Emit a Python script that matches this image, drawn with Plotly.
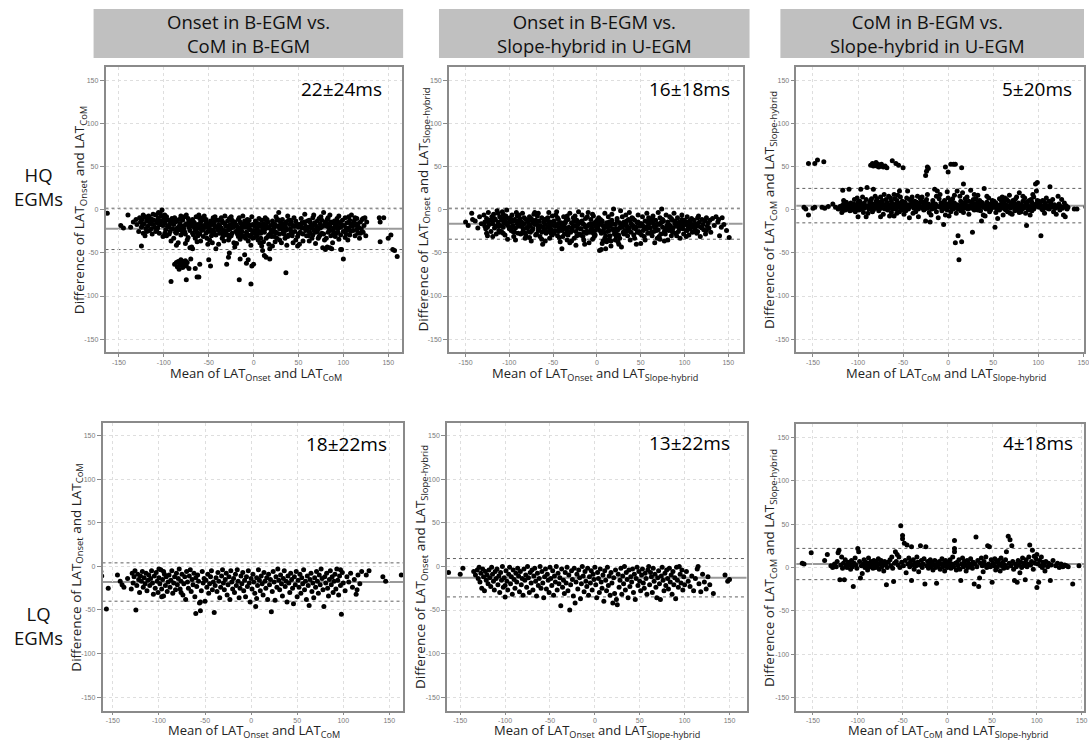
import plotly.graph_objects as go

# ---------------- data (mean, difference) per panel ----------------
HQ_ONSET_COM = [
(-163,-4),(-148,-18),(-145,-21),(-140,-6),(-137,-20),(-134,-14),(-131,-11),(-130,-17),(-125,-42),(-128,-25),
(-127,-9),(-126,-14),(-125,-20),(-124,-11),(-123,-27),(-122,-16),(-121,-8),(-120,-22),(-123,-6),(-121,-30),
(-119,-13),(-118,-19),(-117,-7),(-116,-24),(-115,-10),(-114,-16),(-113,-28),(-112,-5),(-111,-12),(-110,-20),(-118,-9),(-116,-14),(-114,-22),(-112,-17),
(-109,-6),(-108,-15),(-107,-21),(-106,-9),(-105,-27),(-104,-4),(-103,-13),(-102,0),(-101,-18),(-100,-10),(-109,-25),(-107,-12),(-105,-17),(-103,-7),(-101,-31),(-106,-3),
(-99,-15),(-98,-23),(-97,-8),(-96,-19),(-95,-12),(-94,-28),(-93,-16),(-92,-36),(-91,-10),(-90,-22),(-99,-6),(-97,-30),(-95,-18),(-93,-25),(-91,-14),(-98,-11),
(-89,-17),(-88,-9),(-87,-26),(-86,-13),(-85,-21),(-84,-38),(-83,-11),(-82,-16),(-81,-29),(-80,-19),(-89,-33),(-87,-14),(-85,-24),(-83,-19),(-81,-7),(-86,-41),(-82,-23),
(-79,-12),(-78,-22),(-77,-8),(-76,-28),(-75,-16),(-74,-35),(-73,-10),(-72,-20),(-71,-44),(-70,-15),(-79,-26),(-77,-18),(-75,-6),(-73,-32),(-71,-24),(-76,-39),(-72,-13),
(-69,-19),(-68,-11),(-67,-29),(-66,-15),(-65,-23),(-64,-8),(-63,-37),(-62,-17),(-61,-21),(-60,-10),(-69,-43),(-67,-14),(-65,-33),(-63,-26),(-61,-6),(-66,-20),(-62,-30),
(-59,-14),(-58,-24),(-57,-9),(-56,-31),(-55,-18),(-54,-12),(-53,-27),(-52,-20),(-51,-40),(-50,-16),(-59,-36),(-57,-21),(-55,-7),(-53,-15),(-51,-25),(-56,-11),(-52,-33),(-58,-18),
(-49,-22),(-48,-13),(-47,-30),(-46,-17),(-45,-9),(-44,-26),(-43,-19),(-42,-45),(-41,-12),(-40,-23),(-49,-35),(-47,-16),(-45,-28),(-43,-8),(-41,-20),(-46,-38),(-44,-14),(-48,-25),
(-39,-17),(-38,-27),(-37,-11),(-36,-21),(-35,-33),(-34,-15),(-33,-24),(-32,-7),(-31,-19),(-30,-29),(-39,-40),(-37,-22),(-35,-13),(-33,-36),(-31,-26),(-36,-9),(-34,-30),(-38,-18),
(-29,-13),(-28,-23),(-27,-32),(-26,-17),(-25,-8),(-24,-27),(-23,-20),(-22,-38),(-21,-14),(-20,-25),(-29,-19),(-27,-10),(-25,-30),(-23,-16),(-21,-43),(-26,-22),(-24,-12),(-28,-35),
(-19,-18),(-18,-28),(-17,-11),(-16,-22),(-15,-34),(-14,-16),(-13,-25),(-12,-7),(-11,-20),(-10,-30),(-19,-39),(-17,-24),(-15,-14),(-13,-31),(-11,-17),(-16,-9),(-14,-27),(-18,-20),
(-9,-15),(-8,-26),(-7,-19),(-6,-36),(-5,-12),(-4,-23),(-3,-29),(-2,-8),(-1,-17),(0,-24),(-9,-33),(-7,-11),(-5,-21),(-3,-41),(-1,-27),(-6,-16),(-4,-31),(-8,-20),
(1,-19),(2,-13),(3,-28),(4,-22),(5,-35),(6,-10),(7,-25),(8,-17),(9,-42),(10,-21),(1,-32),(3,-15),(5,-26),(7,-38),(9,-12),(4,-30),(6,-19),(8,-27),
(11,-16),(12,-26),(13,-9),(14,-33),(15,-20),(16,-14),(17,-29),(18,-45),(19,-18),(20,-24),(11,-37),(13,-22),(15,-11),(17,-40),(19,-27),(14,-17),(16,-31),(12,-21),
(21,-13),(22,-23),(23,-31),(24,-17),(25,-8),(26,-27),(27,-19),(28,-3),(29,-35),(30,-15),(21,-42),(23,-20),(25,-26),(27,-11),(29,-22),(24,-37),(22,-16),(26,-33),
(31,-18),(32,-11),(33,-26),(34,-20),(35,-33),(36,-14),(37,-23),(38,-7),(39,-29),(40,-17),(31,-38),(33,-16),(35,-24),(37,-41),(39,-12),(34,-28),(36,-21),
(41,-22),(42,-14),(43,-30),(44,-18),(45,-9),(46,-25),(47,-35),(48,-16),(49,-42),(50,-20),(41,-12),(43,-27),(45,-19),(47,-13),(49,-31),(44,-38),
(51,-17),(52,-26),(53,-10),(54,-21),(55,-36),(56,-15),(57,-5),(58,-24),(59,-30),(60,-13),(51,-40),(53,-19),(55,-28),(57,-14),(59,-22),
(61,-20),(62,-12),(63,-27),(64,-17),(65,-33),(66,-9),(67,-23),(68,-15),(69,-39),(70,-19),(61,-30),(63,-14),(65,-21),(67,-6),(69,-26),(62,-36),(66,-18),(68,-25),
(71,-13),(72,-22),(73,-31),(74,-16),(75,-8),(76,-27),(77,-19),(78,-3),(79,-35),(80,-14),(71,-25),(73,-10),(75,-20),(77,-44),(79,-17),(74,-29),(76,-12),(72,-33),(80,-46),
(81,-18),(82,-11),(83,-26),(84,-21),(85,-6),(86,-30),(87,-15),(88,-38),(89,-23),(90,-13),(81,-33),(83,-9),(85,-19),(87,-45),(89,-28),(84,-16),(86,-24),(82,-43),
(91,-17),(92,-27),(93,-10),(94,-22),(95,-34),(96,-15),(97,-20),(98,-46),(99,-12),(100,-25),(91,-31),(93,-19),(95,-7),(97,-29),(94,-14),
(101,-18),(102,-9),(103,-28),(104,-15),(105,-35),(106,-21),(107,-12),(108,-25),(109,-6),(110,-19),(102,-32),(104,-23),(106,-8),(108,-16),
(111,-24),(112,-13),(113,-30),(114,-18),(115,-10),(116,-27),(117,-20),(118,-33),(119,-14),(120,-22),(113,-9),(116,-16),
(121,-11),(122,-26),(123,-18),(124,-9),(125,-30),(126,-14),(122,-10),
(140,-9),(141,-14),(145,-9),(141,-37),(150,-33),(153,-29),(155,-46),(157,-47),(160,-54),
(-92,-83),(-88,-63),(-86,-61),(-85,-66),(-84,-60),(-83,-69),(-82,-64),(-81,-58),(-80,-62),(-79,-67),(-78,-60),(-77,-63),(-76,-59),(-75,-65),(-74,-61),
(-75,-81),(-72,-68),(-70,-57),(-68,-45),(-65,-68),(-63,-78),(-61,-78),(-60,-63),(-50,-58),(-48,-65),(-30,-63),(-28,-55),(-27,-50),(-16,-81),(-15,-57),
(-10,-52),(-8,-62),(-6,-58),(-3,-86),(-2,-65),(0,-63),(10,-47),(12,-53),(14,-55),(18,-57),(36,-73),(100,-57),(85,-44),(97,-46),
]
HQ_ONSET_COM_CORE = [
(-124,-18),(-119,-25),(-113,-11),(-108,-23),(-104,-17),(-99,-27),(-94,-20),(-90,-14),(-86,-27),(-80,-11),(-77,-25),(-73,-17),
(-68,-27),(-64,-19),(-60,-28),(-56,-23),(-53,-11),(-49,-18),(-45,-23),(-42,-29),(-38,-12),(-35,-27),(-32,-16),(-28,-29),
(-24,-20),(-20,-17),(-17,-31),(-14,-21),(-10,-13),(-7,-29),(-4,-18),(-1,-33),(2,-25),(5,-16),(8,-33),(11,-24),(14,-12),
(17,-21),(20,-31),(23,-26),(26,-12),(29,-28),(32,-22),(35,-17),(38,-31),(42,-25),(46,-19),(50,-28),(54,-15),(58,-19),
(62,-25),(66,-29),(70,-24),(74,-21),(78,-28),(82,-19),(86,-14),(90,-20),(94,-26),(98,-17),(103,-21),(107,-29),(111,-17),
(115,-23),(119,-27),
]

HQ_ONSET_SLOPE = [
(-150,-14),(-147,-18),(-143,-4),(-142,-11),(-139,-13),(-136,-21),(-134,-8),(-132,-16),
(-129,-6),(-128,-14),(-127,-22),(-126,-10),(-125,-30),(-124,-3),(-123,-17),(-122,-12),(-121,-25),(-120,-8),(-128,-19),(-126,-27),(-124,-13),
(-119,-16),(-118,-5),(-117,-21),(-116,-11),(-115,-28),(-114,-1),(-113,-14),(-112,-24),(-111,-8),(-110,-18),(-119,-31),(-117,-10),(-115,-19),(-113,-4),(-111,-26),
(-109,-12),(-108,-2),(-107,-20),(-106,-15),(-105,-29),(-104,-7),(-103,-17),(-102,-34),(-101,-10),(-100,-22),(-109,-25),(-107,-5),(-105,-13),(-103,0),(-101,-19),(-106,-9),
(-99,-14),(-98,-24),(-97,-6),(-96,-18),(-95,-31),(-94,-11),(-93,-21),(-92,-3),(-91,-16),(-90,-27),(-99,-9),(-97,-20),(-95,-13),(-93,-35),(-91,-7),(-96,-25),
(-89,-19),(-88,-10),(-87,-28),(-86,-14),(-85,-4),(-84,-23),(-83,-16),(-82,-33),(-81,-11),(-80,-21),(-89,-6),(-87,-15),(-85,-26),(-83,-9),(-81,-30),(-86,-18),
(-79,-13),(-78,-25),(-77,-8),(-76,-19),(-75,-36),(-74,-12),(-73,-22),(-72,-5),(-71,-17),(-70,-29),(-79,-20),(-77,-32),(-75,-10),(-73,-15),(-71,-3),(-76,-26),
(-69,-16),(-68,-7),(-67,-24),(-66,-13),(-65,-31),(-64,-19),(-63,-9),(-62,-40),(-61,-21),(-60,-11),(-69,-28),(-67,-4),(-65,-18),(-63,-34),(-61,-14),(-66,-22),
(-59,-17),(-58,-27),(-57,-10),(-56,-20),(-55,-3),(-54,-33),(-53,-14),(-52,-23),(-51,-7),(-50,-18),(-59,-36),(-57,-12),(-55,-25),(-53,-16),(-51,-29),(-56,-9),(-54,-21),
(-49,-13),(-48,-24),(-47,-6),(-46,-19),(-45,-30),(-44,-11),(-43,-22),(-42,-37),(-41,-15),(-40,-45),(-49,-27),(-47,-17),(-45,-9),(-43,-32),(-41,-20),(-46,-2),(-44,-25),
(-39,-18),(-38,-8),(-37,-28),(-36,-14),(-35,-23),(-34,-35),(-33,-11),(-32,-20),(-31,-4),(-30,-26),(-39,-31),(-37,-16),(-35,-12),(-33,-25),(-31,-38),(-36,-21),(-34,-7),
(-29,-15),(-28,-24),(-27,-9),(-26,-33),(-25,-18),(-24,-41),(-23,-12),(-22,-21),(-21,-2),(-20,-28),(-29,-36),(-27,-19),(-25,-7),(-23,-30),(-21,-16),(-26,-13),(-24,-25),
(-19,-14),(-18,-22),(-17,-6),(-16,-31),(-15,-17),(-14,-40),(-13,-10),(-12,-25),(-11,-19),(-10,-3),(-19,-29),(-17,-13),(-15,-35),(-13,-20),(-11,-8),(-16,-16),(-12,-27),
(-9,-17),(-8,-26),(-7,-11),(-6,-21),(-5,-34),(-4,-7),(-3,-15),(-2,-29),(-1,-19),(0,-12),(-9,-38),(-7,-23),(-5,-5),(-3,-31),(-1,-14),(-6,-18),(-2,-24),
(1,-20),(2,-9),(3,-47),(4,-16),(5,-27),(6,-13),(7,-36),(8,-21),(9,-4),(10,-30),(1,-14),(3,-24),(5,-46),(7,-18),(9,-33),(4,-11),(6,-39),(8,-26),
(11,-15),(12,-25),(13,-8),(14,-34),(15,-19),(16,-42),(17,-12),(18,-22),(19,1),(20,-28),(11,-37),(13,-18),(15,-30),(17,-5),(19,-24),(14,-14),(16,-36),(12,-20),(10,-45),
(21,-17),(22,-31),(23,-10),(24,-23),(25,-40),(26,-15),(27,-1),(28,-43),(29,-20),(30,-26),(21,-35),(23,-13),(25,-29),(27,-19),(29,-8),(24,-37),(22,-22),(26,-33),
(31,-14),(32,-24),(33,-6),(34,-19),(35,-30),(36,-11),(37,-21),(38,-35),(39,-16),(40,-9),(31,-28),(33,-17),(35,-23),(37,-3),(39,-26),(34,-13),
(41,-18),(42,-29),(43,-12),(44,-22),(45,-40),(46,-15),(47,-6),(48,-25),(49,-19),(50,-39),(41,-10),(43,-33),(45,-20),(47,-14),(49,-27),
(51,-16),(52,-8),(53,-24),(54,-31),(55,-13),(56,-20),(57,-4),(58,-27),(59,-17),(60,-11),(51,-29),(53,-19),(55,-35),(57,-22),(59,-9),
(61,-21),(62,-14),(63,-30),(64,-7),(65,-18),(66,-38),(67,-12),(68,-24),(69,-16),(70,-3),(61,-27),(63,-10),(65,-25),(67,-19),(69,-33),(64,-15),
(71,-17),(72,-9),(73,-28),(74,1),(75,-20),(76,-13),(77,-36),(78,-23),(79,-6),(80,-18),(71,-31),(73,-15),(75,-11),(77,-25),(79,-21),(72,-34),
(81,-14),(82,-24),(83,-8),(84,-19),(85,-30),(86,-12),(87,-21),(88,-4),(89,-16),(90,-27),(81,-35),(83,-18),(85,-10),(87,-26),(89,-13),(84,-22),
(91,-19),(92,-9),(93,-25),(94,-14),(95,-33),(96,-17),(97,-6),(98,-22),(99,-28),(100,-12),(91,-30),(93,-16),(95,-20),(97,-11),(99,-18),
(101,-15),(102,-24),(103,-8),(104,-19),(105,-29),(106,-13),(107,-21),(108,-10),(109,-26),(110,-17),(102,-31),(104,-14),(106,-22),(108,-18),
(111,-12),(112,-22),(113,-16),(114,-27),(115,-9),(116,-19),(117,-14),(118,-31),(119,-20),(120,-11),(112,-25),(116,-7),
(121,-17),(122,-23),(123,-13),(124,-28),(125,-9),(126,-19),(127,-15),(128,-21),(129,-12),(130,-26),
(132,-10),(134,-18),(136,-8),(138,-14),(140,-30),(139,-11),(142,-20),(145,-17),(148,-24),(151,-32),(143,-9),
]
HQ_ONSET_SLOPE_CORE = [
(-125,-20),(-118,-12),(-112,-19),(-107,-27),(-102,-15),(-98,-11),(-94,-26),(-90,-13),(-85,-20),(-82,-27),(-78,-16),(-74,-24),
(-70,-12),(-67,-20),(-63,-26),(-59,-23),(-55,-15),(-52,-28),(-48,-18),(-44,-16),(-40,-24),(-37,-20),(-33,-29),(-29,-22),
(-26,-19),(-22,-14),(-19,-22),(-15,-26),(-11,-25),(-7,-16),(-4,-27),(0,-21),(3,-17),(6,-25),(10,-19),(14,-24),(18,-16),
(22,-27),(26,-21),(30,-17),(34,-25),(38,-12),(42,-21),(46,-26),(50,-16),(54,-22),(58,-14),(62,-26),(66,-20),(70,-23),
(74,-14),(78,-28),(82,-17),(86,-25),(90,-15),(94,-22),(98,-15),(103,-24),(107,-16),(111,-20),(115,-25),(120,-21),(125,-24),
]

HQ_COM_SLOPE = [
(-160,3),(-158,1),(-155,-6),(-150,2),(-148,3),(-140,3),(-137,2),(-133,4),(-128,7),(-125,3),(-122,1),
(-119,2),(-118,5),(-117,-1),(-116,7),(-115,3),(-114,0),(-113,9),(-112,4),(-111,1),(-110,6),(-118,-3),(-116,11),(-114,4),
(-109,3),(-108,8),(-107,0),(-106,5),(-105,2),(-104,12),(-103,-2),(-102,6),(-101,3),(-100,9),(-109,-1),(-107,4),(-105,7),(-103,1),(-101,14),
(-99,4),(-98,10),(-97,24),(-96,1),(-95,6),(-94,-3),(-93,8),(-92,3),(-91,12),(-90,26),(-99,0),(-97,5),(-95,15),(-93,2),(-91,-8),(-96,7),(-100,-8),
(-89,5),(-88,1),(-87,9),(-86,3),(-85,13),(-84,-2),(-83,24),(-82,6),(-81,2),(-80,10),(-89,-4),(-87,4),(-85,7),(-83,0),(-81,16),(-86,11),
(-79,3),(-78,8),(-77,-1),(-76,5),(-75,15),(-74,2),(-73,11),(-72,-5),(-71,6),(-70,1),(-79,13),(-77,4),(-75,-8),(-73,7),(-71,18),(-76,9),
(-69,4),(-68,9),(-67,0),(-66,6),(-65,2),(-64,14),(-63,-3),(-62,7),(-61,3),(-60,18),(-69,12),(-67,5),(-65,-7),(-63,10),(-61,1),(-66,16),(-60,-7),
(-59,5),(-58,1),(-57,11),(-56,3),(-55,8),(-54,-2),(-53,15),(-52,4),(-51,0),(-50,7),(-59,13),(-57,-4),(-55,6),(-53,2),(-51,10),(-56,17),(-54,22),
(-49,3),(-48,9),(-47,-1),(-46,5),(-45,22),(-44,1),(-43,12),(-42,4),(-41,7),(-40,15),(-49,-5),(-47,6),(-45,2),(-43,-9),(-41,11),(-46,14),
(-39,6),(-38,2),(-37,10),(-36,-2),(-35,4),(-34,16),(-33,1),(-32,8),(-31,3),(-30,12),(-39,-4),(-37,5),(-35,9),(-33,-8),(-31,14),(-36,7),
(-29,4),(-28,9),(-27,0),(-26,6),(-25,-13),(-24,12),(-23,2),(-22,7),(-21,-3),(-20,-14),(-29,15),(-27,5),(-25,10),(-23,18),(-21,3),(-26,1),
(-19,5),(-18,1),(-17,11),(-16,3),(-15,24),(-14,7),(-13,-2),(-12,22),(-11,4),(-10,13),(-19,-6),(-17,8),(-15,2),(-13,16),(-11,-9),(-16,6),
(-9,3),(-8,8),(-7,-1),(-6,5),(-5,-17),(-4,11),(-3,2),(-2,7),(-1,0),(0,14),(-9,18),(-7,4),(-5,9),(-3,-6),(-1,21),(-6,1),
(1,4),(2,9),(3,-2),(4,6),(5,13),(6,1),(7,8),(8,-38),(9,3),(10,22),(1,-7),(3,11),(5,4),(7,17),(9,-4),(4,2),(6,7),
(11,-30),(12,-58),(13,5),(14,10),(15,-37),(16,2),(17,30),(18,7),(19,13),(20,3),(11,1),(13,16),(15,6),(17,-3),(19,9),(14,-1),(16,20),
(21,5),(22,1),(23,10),(24,3),(25,23),(26,7),(27,-26),(28,12),(29,0),(30,6),(21,15),(23,-5),(25,4),(27,9),(29,18),(26,2),
(31,4),(32,8),(33,17),(34,2),(35,11),(36,-1),(37,-13),(38,6),(39,3),(40,25),(31,13),(33,0),(35,5),(37,9),(39,-6),(34,7),
(41,5),(42,1),(43,9),(44,3),(45,14),(46,-2),(47,7),(48,2),(49,11),(50,4),(41,-7),(43,16),(45,6),(47,0),(49,8),
(51,3),(52,-20),(53,8),(54,1),(55,-10),(56,5),(57,13),(58,2),(59,7),(60,15),(51,10),(53,-3),(55,4),(57,0),(59,11),(54,6),
(61,4),(62,9),(63,1),(64,6),(65,12),(66,-2),(67,5),(68,17),(69,2),(70,8),(61,-6),(63,14),(65,3),(67,10),(69,-4),(64,0),
(71,3),(72,11),(73,6),(74,-1),(75,4),(76,15),(77,2),(78,8),(79,20),(80,5),(71,-5),(73,9),(75,13),(77,0),(79,-3),(74,7),
(81,6),(82,1),(83,10),(84,4),(85,14),(86,-4),(87,-18),(88,7),(89,3),(90,11),(81,-2),(83,16),(85,5),(87,9),(89,0),(84,2),
(91,4),(92,12),(93,-1),(94,7),(95,15),(96,3),(97,30),(98,22),(99,32),(100,6),(91,-6),(93,9),(95,1),(97,5),(99,11),(94,18),
(101,3),(102,8),(103,-30),(104,1),(105,11),(106,5),(107,-4),(108,7),(109,14),(110,2),(101,10),(103,4),(105,0),(107,9),
(111,5),(112,1),(113,27),(114,8),(115,3),(116,12),(117,-2),(118,6),(119,2),(120,-5),(112,10),(116,4),
(121,3),(122,16),(123,7),(124,0),(125,4),(126,12),(127,2),(128,-6),(129,8),(130,-8),(131,5),(132,1),(133,3),
(140,1),(143,1),(153,3),
(-155,54),(-148,54),(-145,58),(-138,56),(-86,52),(-84,54),(-83,51),(-82,53),(-81,52),(-80,55),(-79,51),(-78,53),(-77,50),(-76,52),
(-75,51),(-74,53),(-72,50),(-70,51),(-68,49),(-62,57),(-58,54),(-55,52),(-50,49),(-25,40),(-24,45),(-23,50),(-22,48),(-3,50),(0,44),
(3,53),(6,53),(8,53),(15,49),(-110,24),(-117,23),
]
HQ_COM_SLOPE_CORE = [
(-120,4),(-115,6),(-108,2),(-104,5),(-98,3),(-94,6),(-88,4),(-84,7),(-78,2),(-74,5),(-68,3),(-64,5),(-58,7),(-52,2),
(-48,4),(-44,6),(-38,3),(-34,5),(-28,2),(-24,6),(-18,3),(-14,4),(-8,5),(-4,3),(2,5),(6,3),(10,6),(14,4),(18,2),(22,5),
(26,4),(30,2),(34,4),(38,8),(42,5),(46,3),(50,6),(54,3),(58,5),(62,2),(66,4),(70,6),(74,3),(78,5),(82,3),(86,6),(90,2),
(94,4),(98,7),(102,5),(106,2),(110,4),(114,6),(118,3),(122,5),(126,3),(130,4),
]

LQ_ONSET_COM = [
(-163,-6),(-162,-11),(-157,-49),(-155,-25),(-145,-10),(-142,-17),(-140,-21),(-138,-24),(-134,-14),(-130,-26),
(-129,-8),(-128,-19),(-127,-12),(-126,-5),(-125,-50),(-124,-22),(-123,-9),(-122,-15),(-121,-30),(-120,-11),
(-119,-17),(-118,-6),(-117,-24),(-116,-13),(-115,-20),(-114,-8),(-113,-28),(-112,-16),(-111,-10),(-110,-22),
(-109,-14),(-108,-5),(-107,-19),(-106,-32),(-105,-11),(-104,-25),(-103,-7),(-102,-17),(-101,-30),(-100,-13),(-100,-3),
(-99,-20),(-98,-4),(-97,-26),(-96,-15),(-95,-34),(-94,-9),(-93,-22),(-92,-12),(-91,-29),(-90,-18),(-97,-35),(-95,-6),
(-89,-10),(-88,-24),(-87,-16),(-86,-5),(-85,-31),(-84,-19),(-83,-12),(-82,-27),(-81,-8),(-80,-21),
(-79,-14),(-78,-3),(-77,-26),(-76,-17),(-75,-9),(-74,-33),(-73,-20),(-72,-12),(-71,-38),(-70,-6),(-76,-30),
(-69,-18),(-68,-25),(-67,-11),(-66,-4),(-65,-29),(-64,-15),(-63,-21),(-62,-8),(-61,-35),(-60,-13),(-60,-54),
(-59,-23),(-58,-10),(-57,-17),(-56,-42),(-55,-51),(-54,-28),(-53,-6),(-52,-19),(-51,-14),(-50,-40),(-55,-41),
(-49,-16),(-48,-24),(-47,-9),(-46,-31),(-45,-20),(-44,-12),(-43,-5),(-42,-27),(-41,-18),(-40,-53),
(-39,-22),(-38,-13),(-37,-29),(-36,-7),(-35,-17),(-34,-36),(-33,-24),(-32,-11),(-31,-4),(-30,-19),
(-29,-27),(-28,-15),(-27,-8),(-26,-33),(-25,-21),(-24,-12),(-23,-38),(-22,-5),(-21,-18),(-20,-26),
(-19,-14),(-18,-30),(-17,-9),(-16,-22),(-15,-4),(-14,-17),(-13,-36),(-12,-25),(-11,-11),(-10,-20),
(-9,-7),(-8,-28),(-7,-16),(-6,-35),(-5,-12),(-4,-23),(-3,-5),(-2,-19),(-1,-41),(0,-14),
(1,-26),(2,-9),(3,-18),(4,-31),(5,-46),(6,-13),(7,-22),(8,-4),(9,-16),(10,-28),(6,-37),
(11,-11),(12,-20),(13,-33),(14,-7),(15,-17),(16,-25),(17,-13),(18,-38),(19,-9),(20,-21),
(21,-15),(22,-52),(23,-29),(24,-6),(25,-18),(26,-39),(27,-12),(28,-24),(29,-3),(30,-16),
(31,-27),(32,-10),(33,-20),(34,-34),(35,-14),(36,-5),(37,-23),(38,-17),(39,-41),(40,-11),
(41,-19),(42,-30),(43,-8),(44,-15),(45,-25),(46,-43),(47,-12),(48,-21),(49,-6),(50,-35),
(51,-16),(52,-24),(53,-9),(54,-31),(55,-13),(56,-20),(57,-4),(58,-27),(59,-17),(60,-38),
(61,-11),(62,-22),(63,-45),(64,-15),(65,-8),(66,-29),(67,-19),(68,-36),(69,-13),(70,-24),
(71,-6),(72,-17),(73,-31),(74,-10),(75,-21),(76,-3),(77,-14),(78,-27),(79,-46),(80,-12),
(81,-19),(82,-8),(83,-25),(84,-34),(85,-15),(86,-5),(87,-21),(88,-12),(89,-30),(90,-17),
(91,-9),(92,-26),(93,-3),(94,-16),(95,-33),(96,-11),(97,-22),(98,-55),(99,-7),(100,-19),(97,-4),
(102,-28),(104,-12),(106,-18),(108,-8),(110,-24),(112,-15),(114,-32),(116,-10),(118,-20),(120,-6),(115,-27),
(125,-10),(128,-5),(143,-12),(146,-17),(163,-10),
]

LQ_ONSET_SLOPE = [
(-163,-7),(-150,-9),(-147,-2),(-135,-6),(-133,-10),(-131,-4),(-130,-14),
(-129,-1),(-128,-18),(-127,-8),(-126,-25),(-125,-3),(-124,-12),(-123,-28),(-122,-6),(-121,-16),(-120,-10),
(-119,-20),(-118,-4),(-117,-13),(-116,-23),(-115,-1),(-114,-9),(-113,-17),(-112,-27),(-111,-6),(-110,-14),
(-109,-3),(-108,-21),(-107,-11),(-106,-30),(-105,-7),(-104,-16),(-103,0),(-102,-24),(-101,-13),(-100,-35),(-100,-22),
(-99,-5),(-98,-17),(-97,-27),(-96,-9),(-95,-1),(-94,-20),(-93,-12),(-92,-32),(-91,-4),(-90,-15),
(-89,-25),(-88,-8),(-87,-18),(-86,-2),(-85,-11),(-84,-29),(-83,-6),(-82,-21),(-81,-14),(-80,-33),
(-79,-3),(-78,-16),(-77,-10),(-76,-24),(-75,0),(-74,-13),(-73,-30),(-72,-7),(-71,-19),(-70,-4),
(-69,-27),(-68,-11),(-67,-2),(-66,-17),(-65,-34),(-64,-8),(-63,-22),(-62,-14),(-61,0),(-60,-25),
(-59,-6),(-58,-19),(-57,-36),(-56,-12),(-55,-3),(-54,-26),(-53,-9),(-52,-16),(-51,-30),(-50,-1),
(-49,-14),(-48,-22),(-47,-5),(-46,-33),(-45,-11),(-44,-18),(-43,0),(-42,-27),(-41,-8),(-40,-20),
(-39,-13),(-38,-45),(-37,-3),(-36,-24),(-35,-16),(-34,-31),(-33,-7),(-32,-19),(-31,-1),(-30,-28),
(-29,-10),(-28,-50),(-27,-21),(-26,-5),(-25,-15),(-24,-34),(-23,-2),(-22,-42),(-21,-18),(-20,-9),
(-19,-26),(-18,-4),(-17,-13),(-16,-37),(-15,-20),(-14,0),(-13,-11),(-12,-29),(-11,-6),(-10,-17),
(-9,-23),(-8,-2),(-7,-33),(-6,-12),(-5,-19),(-4,-5),(-3,-27),(-2,-9),(-1,-15),(0,-1),
(1,-21),(2,-36),(3,-7),(4,-14),(5,-30),(6,-3),(7,-18),(8,-25),(9,-10),(10,-40),
(11,-5),(12,-16),(13,-28),(14,-1),(15,-22),(16,-11),(17,-33),(18,-7),(19,-19),(20,-42),
(21,-13),(22,-31),(23,-4),(24,-38),(25,-44),(26,-9),(27,-24),(28,-16),(29,-2),(30,-32),
(31,-11),(32,-20),(33,0),(34,-27),(35,-7),(36,-15),(37,-36),(38,-4),(39,-23),(40,-12),
(41,-18),(42,-3),(43,-30),(44,-9),(45,-38),(46,-14),(47,-1),(48,-22),(49,-6),(50,-17),
(51,-28),(52,-10),(53,-3),(54,-19),(55,-25),(56,-8),(57,-14),(58,-32),(59,-4),(60,0),
(61,-21),(62,-7),(63,-12),(64,-30),(65,-2),(66,-17),(67,-9),(68,-24),(69,-36),(70,-13),
(71,-5),(72,-20),(73,-38),(74,-11),(75,-1),(76,-16),(77,-28),(78,-8),(79,-22),(80,-4),
(81,-14),(82,-26),(83,-2),(84,-18),(85,-10),(86,-32),(87,-6),(88,-21),(89,-13),(90,-37),
(91,-1),(92,-16),(93,-24),(94,0),(95,-9),(96,-19),(97,-4),(98,-27),(99,-12),(100,-21),
(102,-6),(104,-17),(106,-23),(108,-11),(110,-28),(112,-14),(114,-3),(116,-20),(118,-29),(120,-9),(115,0),
(122,-18),(124,-26),(126,-12),(128,-21),(132,-31),
(145,-10),(148,-17),(150,-15),
]

LQ_COM_SLOPE = [
(-162,5),(-160,4),(-152,17),(-137,8),(-134,15),(-130,2),(-128,0),(-126,4),
(-124,1),(-123,7),(-122,17),(-121,20),(-120,-14),(-119,3),(-118,12),(-117,-1),(-116,5),(-115,-14),(-114,9),(-113,2),(-112,0),(-111,6),(-110,3),
(-109,4),(-108,-2),(-107,8),(-106,1),(-105,-22),(-104,5),(-103,11),(-102,3),(-101,-1),(-100,22),(-99,18),(-98,7),(-97,-12),(-96,2),(-95,-7),
(-94,4),(-93,9),(-92,0),(-91,6),(-90,2),(-89,-3),(-88,11),(-87,5),(-86,1),(-85,7),(-84,3),(-83,-1),(-82,8),(-81,4),(-80,0),
(-79,6),(-78,2),(-77,10),(-76,-2),(-75,4),(-74,8),(-73,1),(-72,5),(-71,-4),(-70,7),(-69,3),(-68,-20),(-67,0),(-66,6),
(-64,9),(-63,2),(-62,12),(-61,-1),(-60,-16),(-59,5),(-58,18),(-57,7),(-56,15),(-55,3),(-54,12),(-53,0),(-52,48),(-51,6),(-50,37),(-50,33),
(-49,2),(-48,28),(-47,8),(-46,-6),(-45,26),(-44,4),(-43,11),(-42,1),(-41,7),(-40,24),(-40,-15),(-39,3),(-38,9),(-37,-2),(-36,5),
(-35,2),(-34,12),(-33,6),(-32,-5),(-31,3),(-30,25),(-29,8),(-28,0),(-27,4),(-26,10),(-25,-19),(-24,24),(-23,2),(-22,7),(-21,-1),
(-20,4),(-19,9),(-18,1),(-17,6),(-16,-3),(-15,3),(-14,8),(-13,0),(-12,-18),(-11,5),(-10,2),(-9,7),(-8,-2),(-7,4),(-6,10),
(-5,1),(-4,5),(-3,-4),(-2,8),(-1,3),(0,0),(1,6),(2,2),(3,9),(4,-1),(5,4),(6,12),(7,1),(8,31),(8,22),(8,18),(9,5),(10,-3),
(11,6),(12,2),(13,9),(14,-2),(15,-15),(16,4),(17,11),(18,1),(19,7),(20,3),(21,-4),(22,8),(23,0),(24,5),(25,2),
(26,10),(27,3),(28,-1),(29,6),(30,-19),(31,4),(32,35),(33,1),(34,8),(35,-22),(36,-12),(37,5),(38,11),(39,2),(40,-5),
(41,7),(42,3),(43,12),(44,0),(45,25),(46,4),(47,24),(48,1),(49,9),(50,-17),(51,5),(52,2),(53,10),(54,-3),(55,6),
(56,1),(57,8),(58,4),(59,-4),(60,11),(61,2),(62,6),(63,-1),(64,3),(65,9),(66,18),(67,0),(68,36),(69,5),(70,32),
(71,2),(72,25),(73,7),(74,-2),(75,-15),(76,4),(77,1),(78,-17),(79,8),(80,3),(81,-6),(82,6),(83,0),(84,11),(85,2),
(86,5),(87,-14),(88,9),(89,1),(90,4),(91,12),(92,26),(93,3),(94,7),(95,20),(96,-2),(97,13),(98,5),(99,10),(100,-23),(100,15),
(101,4),(102,-17),(103,8),(104,2),(105,12),(106,0),(107,6),(108,3),(109,-4),(110,7),(112,1),(113,5),(115,-15),(116,3),(118,8),
(121,2),(123,5),(125,0),(127,4),(129,1),(131,3),(133,2),(135,1),(140,-19),(147,2),(155,1),
]

PANEL_DATA = [HQ_ONSET_COM + HQ_ONSET_COM_CORE, HQ_ONSET_SLOPE + HQ_ONSET_SLOPE_CORE,
              HQ_COM_SLOPE + HQ_COM_SLOPE_CORE, LQ_ONSET_COM, LQ_ONSET_SLOPE, LQ_COM_SLOPE]
BIAS = [-22, -16, 5, -18, -13, 4]          # mean difference (solid line)
LOA = [24, 18, 20, 22, 22, 18]             # half-width of limits of agreement (dotted lines)
STAT_LABELS = ["22±24ms", "16±18ms", "5±20ms", "18±22ms", "13±22ms", "4±18ms"]
HEADERS = ["Onset in B-EGM vs.<br>CoM in B-EGM",
           "Onset in B-EGM vs.<br>Slope-hybrid in U-EGM",
           "CoM in B-EGM vs.<br>Slope-hybrid in U-EGM"]
ROW_LABELS = ["HQ<br>EGMs", "LQ<br>EGMs"]
PAIRS = [("Onset", "CoM"), ("Onset", "Slope-hybrid"), ("CoM", "Slope-hybrid")]
TICKS = [-150, -100, -50, 0, 50, 100, 150]
TICK_TEXT = ["-150", "-100", "-50", "0", "50", "100", "150"]

# ---------------- layout geometry (pixels) ----------------
W, H = 1089, 742
def px(x): return x / W
def py(y): return 1 - y / H

GEOM = [  # left, right, top, bottom, xrange, yrange
    (106, 404, 67, 352, [-165, 165.5], [-165, 166]),
    (451, 746, 67, 352, [-169, 166.3], [-165, 166]),
    (800, 1089, 67, 352, [-168.5, 150.8], [-165, 166]),
    (103, 405, 423, 711, [-161.2, 165], [-166, 164.5]),
    (449, 750, 423, 711, [-164.8, 169], [-165.8, 164.4]),
    (800, 1089, 424, 711, [-168.6, 152.6], [-165.3, 165.3]),
]
YTITLE_X = [80, 425, 773, 77, 423, 773]
XTITLE_BOTTOM = [385, 385, 385, 741.5, 741.5, 741.5]   # bottom edge of x-title text box
XTITLE_X = [257, 598, 950, 255, 600, 952]
XTICKLEN = [3, 3, 3, 2, 2, 2]
STAT_POS = [(386, 89), (735, 89), (1079, 89), (391, 444), (735, 443), (1080, 443)]
HEADER_BOX = [(94, 405), (441, 753), (784, 1089)]
HEADER_TEXT_X = [249.5, 597, 932]

FONT = "Open Sans, Noto Sans, sans-serif"
TICKFONT = dict(family="Liberation Sans Narrow, Liberation Sans, Arial", size=7, color="#7a7a7a")

fig = go.Figure()
layout = dict(width=W, height=H, margin=dict(l=0, r=0, t=0, b=0),
              paper_bgcolor="white", plot_bgcolor="white", showlegend=False)
shapes, annots = [], []

for i, pts in enumerate(PANEL_DATA):
    k = i + 1
    xa = "x" if k == 1 else f"x{k}"
    ya = "y" if k == 1 else f"y{k}"
    xkey = "xaxis" if k == 1 else f"xaxis{k}"
    ykey = "yaxis" if k == 1 else f"yaxis{k}"
    l, r, t, b, xr, yr = GEOM[i]
    axis_common = dict(showline=True, linecolor="#8a8a8a", linewidth=1.5, mirror=True,
                       ticks="outside", tickcolor="#8a8a8a", tickwidth=1,
                       tickfont=TICKFONT, tickvals=TICKS, ticktext=TICK_TEXT,
                       showgrid=True, gridcolor="#dedede",
                       griddash="dot", gridwidth=1, zeroline=False, fixedrange=True)
    layout[xkey] = dict(domain=[px(l), px(r)], range=xr, anchor=ya, ticklen=XTICKLEN[i],
                        ticklabeloverflow="allow", **axis_common)
    layout[ykey] = dict(domain=[py(b), py(t)], range=yr, anchor=xa, ticklen=4, **axis_common)

    for yv, dash, col, w in [(BIAS[i] + LOA[i], "dot", "#606060", 1),
                             (BIAS[i] - LOA[i], "dot", "#606060", 1),
                             (BIAS[i], "solid", "#9a9a9a", 2)]:
        shapes.append(dict(type="line", xref=f"{xa} domain", yref=ya, x0=0, x1=1, y0=yv, y1=yv,
                           line=dict(color=col, width=w, dash=dash), layer="below"))

    fig.add_trace(go.Scatter(x=[p[0] for p in pts], y=[p[1] for p in pts], mode="markers",
                             xaxis=xa, yaxis=ya, cliponaxis=True,
                             marker=dict(color="black", size=5, line=dict(width=0))))

    a, bname = PAIRS[i % 3]
    annots.append(dict(text=f"Difference of LAT<sub>{a}</sub> and LAT<sub>{bname}</sub>",
                       x=px(YTITLE_X[i]), y=py((t + b) / 2), xref="paper", yref="paper",
                       textangle=-90, showarrow=False, xanchor="center", yanchor="middle",
                       font=dict(family=FONT, size=13.5, color="#222222")))
    annots.append(dict(text=f"Mean of LAT<sub>{a}</sub> and LAT<sub>{bname}</sub>",
                       x=px(XTITLE_X[i]), y=py(XTITLE_BOTTOM[i]), xref="paper", yref="paper",
                       showarrow=False, xanchor="center", yanchor="bottom", borderpad=0,
                       font=dict(family=FONT, size=13, color="#222222")))
    sx, sy = STAT_POS[i]
    annots.append(dict(text=STAT_LABELS[i], x=px(sx), y=py(sy), xref="paper", yref="paper",
                       showarrow=False, xanchor="right", yanchor="middle",
                       font=dict(family=FONT, size=19, color="black")))

for j, (x0, x1) in enumerate(HEADER_BOX):
    shapes.append(dict(type="rect", xref="paper", yref="paper", x0=px(x0), x1=px(x1),
                       y0=py(58), y1=py(9), fillcolor="#c0c0c0", line=dict(width=0), layer="below"))
    annots.append(dict(text=HEADERS[j], x=px(HEADER_TEXT_X[j]), y=py(33.5),
                       xref="paper", yref="paper", showarrow=False, xanchor="center",
                       yanchor="middle", font=dict(family=FONT, size=18.5, color="#111111")))

for j, yc in enumerate([186.5, 625]):
    annots.append(dict(text=ROW_LABELS[j], x=px(39), y=py(yc), xref="paper", yref="paper",
                       showarrow=False, xanchor="center", yanchor="middle",
                       font=dict(family=FONT, size=18.5, color="#111111")))

layout["shapes"] = shapes
layout["annotations"] = annots
fig.update_layout(**layout)
fig.write_html("out.html")
